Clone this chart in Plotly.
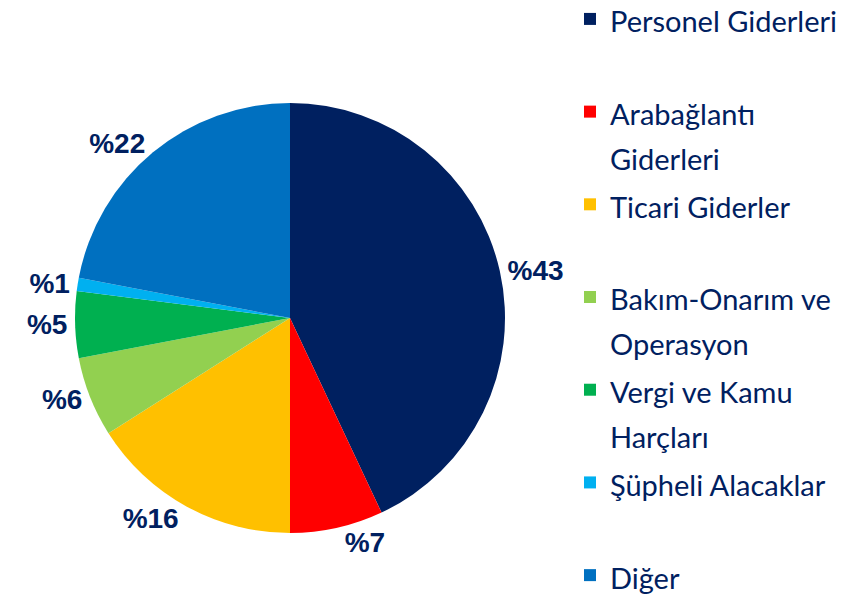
import plotly.graph_objects as go

# Gider dağılımı (%)
categories = [
    "Personel Giderleri",
    "Arabağlantı<br>Giderleri",
    "Ticari Giderler",
    "Bakım-Onarım ve<br>Operasyon",
    "Vergi ve Kamu<br>Harçları",
    "Şüpheli Alacaklar",
    "Diğer",
]
values = [43, 7, 16, 6, 5, 1, 22]
colors = ["#002060", "#FF0000", "#FFC000", "#92D050", "#00B050", "#00B0F0", "#0070C0"]
value_labels = ["%43", "%7", "%16", "%6", "%5", "%1", "%22"]

navy = "#002060"
W, H, OFF = 863, 596, 8  # page body keeps an 8px margin
fw, fh = W - OFF, H - OFF


def legend_label(name, last=False):
    # every entry takes two legend lines so the spacing stays even
    if "<br>" not in name and not last:
        name = name + "<br> "
    span = '<span style="font-size:29px">'
    return span + name.replace("<br>", "</span><br>" + span) + "</span>"


legend_names = [
    legend_label(c, last=(i == len(categories) - 1)) for i, c in enumerate(categories)
]

fig = go.Figure()
fig.add_trace(
    go.Pie(
        labels=legend_names,
        values=values,
        text=["<b>" + t + "</b>" for t in value_labels],
        textinfo="text",
        textposition="outside",
        sort=False,
        direction="clockwise",
        rotation=0,
        marker=dict(colors=colors, line=dict(width=0)),
        outsidetextfont=dict(family="Liberation Sans, Arial", size=28, color=navy),
        hoverinfo="label+value",
        domain=dict(
            x=[(75 - OFF) / fw, (505 - OFF) / fw],
            y=[1 - (533 - OFF) / fh, 1 - (103 - OFF) / fh],
        ),
    )
)

fig.update_layout(
    width=fw,
    height=fh,
    margin=dict(l=0, r=0, t=0, b=0, autoexpand=False),
    paper_bgcolor="white",
    plot_bgcolor="white",
    showlegend=True,
    legend=dict(
        x=(570 - OFF) / fw,
        xanchor="left",
        y=1 + 18 / fh,
        yanchor="top",
        valign="top",
        font=dict(family="Lato, Noto Sans", size=34.5, color=navy),
        bgcolor="rgba(0,0,0,0)",
        maxheight=1000,
    ),
)

fig.write_html("out.html")
